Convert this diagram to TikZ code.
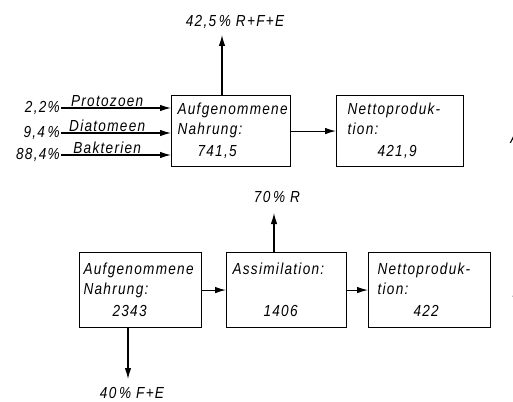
\documentclass[tikz,border=0pt]{standalone}
\usepackage{fontspec}
\newfontfamily\dinfont{Liberation Sans}[LetterSpace=8,FakeStretch=0.85]
\usepackage{tikz}
\usetikzlibrary{arrows.meta,positioning}
\tikzset{
  blockbox/.style={draw,line width=1.1pt,anchor=north west,inner ysep=0pt,align=left,
                   font=\dinfont\itshape\fontsize{16}{20}\selectfont},
  lbl/.style     ={inner sep=1pt,font=\dinfont\itshape\fontsize{16}{18}\selectfont},
  flow/.style    ={-{Latex[length=11pt,width=6.5pt]},line width=1.1pt}
}
\begin{document}
\begin{tikzpicture}[x=1pt,y=-1pt]
  \useasboundingbox (0,0) rectangle (513,401);
  % oben: Aufnahme aus drei Nahrungsquellen
  \node[blockbox,minimum height=71,inner xsep=6pt,text width=107pt] (nahrA) at (171,95)
    {Aufgenommene\\Nahrung:\\[2pt]\hspace*{20pt}741,5};
  \node[blockbox,minimum height=71,inner xsep=11pt,text width=105pt] (nettoA) at (336,95)
    {Nettoproduk-\\tion:\\[2pt]\hspace*{30pt}421,9};
  \draw[flow] (nahrA) -- (nettoA);
  \node[lbl,anchor=east] (p1) at (61,108) {2,2\%};
  \node[lbl,anchor=east] (p2) at (61,133) {9,4\,\%};
  \node[lbl,anchor=east] (p3) at (61,155) {88,4\%};
  \draw[flow] (p1.east) -- node[lbl,above,pos=0.42,inner sep=0.5pt] {Protozoen} (p1.east -| nahrA.west);
  \draw[flow] (p2.east) -- node[lbl,above,pos=0.42,inner sep=0.5pt] {Diatomeen} (p2.east -| nahrA.west);
  \draw[flow] (p3.east) -- node[lbl,above,pos=0.42,inner sep=0.5pt] {Bakterien} (p3.east -| nahrA.west);
  \coordinate (upA) at (222,35);
  \node[lbl] (verlA) at (235,22) {42,5\,\% R+F+E};
  \draw[flow] (nahrA.north -| upA) -- (upA);
  \node[lbl] (tagA) at (515,138) {A};
  % unten: Nahrung -> Assimilation -> Nettoproduktion
  \node[blockbox,minimum height=75,inner xsep=4pt,text width=114pt] (nahrB) at (79,252)
    {Aufgenommene\\Nahrung:\\[2pt]\hspace*{29pt}2343};
  \node[blockbox,minimum height=75,inner xsep=6pt,text width=108pt] (assim) at (226,252)
    {Assimilation:\\[22pt]\hspace*{31pt}1406};
  \node[blockbox,minimum height=75,inner xsep=9pt,text width=104pt] (nettoB) at (368,252)
    {Nettoproduk-\\tion:\\[2pt]\hspace*{36pt}422};
  \draw[flow] (nahrB) -- (assim);
  \draw[flow] (assim) -- (nettoB);
  \coordinate (upB) at (274,213);
  \node[lbl] (verlB) at (277,197) {70\,\% R};
  \draw[flow] (assim.north -| upB) -- (upB);
  \coordinate (dnB) at (128,379);
  \node[lbl] (verlC) at (132,393) {40\,\% F+E};
  \draw[flow] (nahrB.south -| dnB) -- (dnB);
  \node[lbl] (tagB) at (517,292) {B};
\end{tikzpicture}
\end{document}
